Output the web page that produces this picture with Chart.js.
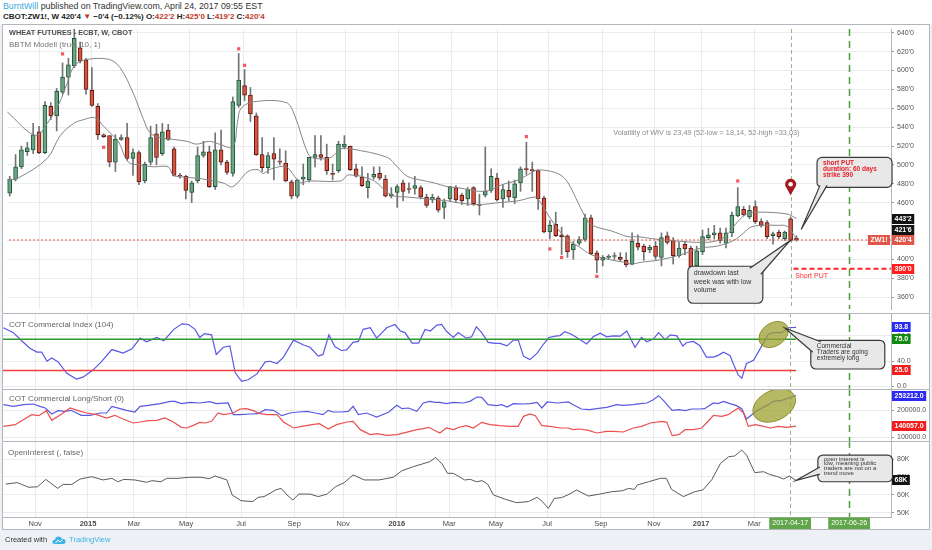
<!DOCTYPE html>
<html>
<head>
<meta charset="utf-8">
<title>Wheat futures weekly</title>
<script src="https://cdn.jsdelivr.net/npm/chart.js@4.4.1/dist/chart.umd.min.js"></script>
<style>
  html, body { margin: 0; padding: 0; }
  body { width: 932px; height: 550px; overflow: hidden; position: relative; background: #edf1f5;
         font-family: "Liberation Sans", Arial, sans-serif; }
  #hdr { position: absolute; left: 0; top: 0; width: 932px; height: 24px; background: #fff; }
  #hdr .l1 { position: absolute; left: 3px; top: 1px; font-size: 8.8px; color: #333; white-space: nowrap; }
  #hdr .l2 { position: absolute; left: 3px; top: 12px; font-size: 8px; font-weight: bold; color: #222; white-space: nowrap; }
  .blue { color: #3aa9de; }
  .red { color: #c0392b; }
  #frame { position: absolute; left: 2px; top: 24px; width: 926px; height: 504px; border: 1px solid #b3b7bb; background: #fff; }
  #frame canvas { position: absolute; left: 0; }
  .sep { position: absolute; left: 0; width: 926px; height: 1px; background: #b3b7bb; }
  .lgd { position: absolute; font-size: 8px; color: #666; white-space: nowrap; pointer-events: none; }
  #foot { position: absolute; left: 5px; top: 535px; font-size: 7.5px; color: #333; white-space: nowrap; }
  #foot .tv { color: #3bb3e4; }
  #foot svg { vertical-align: middle; margin: 0 3px 0 5px; }
</style>
</head>
<body>
<div id="hdr">
  <div class="l1"><span class="blue">BurntWill</span> published on TradingView.com, April 24, 2017 09:55 EST</div>
  <div class="l2">CBOT:ZW1!, W 420'4 <span class="red">&#9660;</span> &minus;0'4 (&minus;0.12%) O:<span class="red">422'2</span> H:<span class="red">425'0</span> L:<span class="red">419'2</span> C:<span class="red">420'4</span></div>
</div>

<div id="frame">
  <canvas id="cMain" width="926" height="288" style="top:0"></canvas>
  <canvas id="cIdx" width="926" height="76" style="top:288px"></canvas>
  <canvas id="cLS" width="926" height="52" style="top:364px"></canvas>
  <canvas id="cOI" width="926" height="88" style="top:416px"></canvas>
  <div class="sep" style="top:288px"></div>
  <div class="sep" style="top:364px"></div>
  <div class="sep" style="top:416px"></div>
  <div class="lgd" style="left:6px;top:3px;font-size:7.3px;font-weight:bold;color:#4d4d4d">WHEAT FUTURES - ECBT, W, CBOT</div>
  <div class="lgd" style="left:6px;top:15px;color:#777">BBTM Modell (true, 10, 1)</div>
  <div class="lgd" style="left:6px;top:295px">COT Commercial Index (104)</div>
  <div class="lgd" style="left:6px;top:369px">COT Commercial Long/Short (0)</div>
  <div class="lgd" style="left:5px;top:423px">OpenInterest (, false)</div>
</div>

<div id="foot">Created with<svg width="14" height="10" viewBox="0 0 14 10"><path d="M3 9 Q0 9 0.5 6.5 Q1 4.5 3 4.8 Q3.5 1.5 6.5 1.5 Q9 1.5 9.8 3.8 Q13.5 3.5 13.5 6.5 Q13.5 9 11 9 Z" fill="#3bb3e4"/><path d="M3.5 8 L6 5 L8 7 L10.5 4.5" stroke="#fff" stroke-width="1" fill="none"/></svg><span class="tv">TradingView</span></div>

<script>
// ---------- weekly candles, week index 0 = late Sep 2014 ----------
const opens = [470,485,498,514,516,535,513,562,552,577, 593,605,624,611,579,562,532,531,503,527,
  529,507,513,483,503,533,512,537,517,489, 488,471,483,510,514,477,516,503,491,563,
  584,574,552,511,497,512,504,502,482,467, 485,484,508,511,508,491,494,519,520,496,
  487,476,487,491,485,467,471,481,475,475, 476,466,463,465,455,464,476,468,464,476,
  458,468,473,486,464,473,465,481,496,495, 494,465,429,437,426,425,410,417,421,444,
  407,399,402,403,402,399,395,417,414,410, 414,402,425,420,404,416,412,393,408,423,
  426,428,417,428,446,453,445,456,440,439, 425,429,422,443,422.25];
const highs = [488,511,520,524,544,541,567,566,581,608, 613,644,630,613,603,565,533,531,532,532,
  544,517,515,503,541,543,544,543,519,491, 489,483,519,525,520,534,537,505,572,618,
  601,582,555,529,513,529,517,515,484,485, 501,508,531,531,522,501,525,531,520,501,
  498,491,498,498,489,476,479,484,481,488, 478,469,469,467,464,477,478,470,476,477,
  469,519,496,491,479,483,484,498,524,503, 495,467,441,450,434,426,419,424,448,447,
  409,404,405,407,407,407,428,426,416,415, 419,428,429,423,418,419,414,414,431,433,
  436,433,433,450,476,456,457,462,443,441, 429,431,430,445,425];
const lows = [467,483,496,510,512,512,512,548,536,575, 574,603,608,575,562,527,529,498,493,526,
  505,489,479,481,500,500,510,526,488,486, 464,460,481,508,476,474,500,490,488,561,
  568,546,510,493,491,484,500,482,464,465, 479,482,498,505,490,484,492,517,494,487,
  477,465,485,484,466,465,455,462,470,469, 464,455,460,450,443,462,460,458,457,457,
  447,466,471,462,455,462,459,472,490,472, 453,428,422,424,405,402,400,415,419,405,
  386,393,400,400,398,392,394,410,399,407, 400,393,416,395,402,405,390,390,405,421,
  422,417,412,424,445,446,443,438,434,422, 416,422,420,419,419.25];
const closes = [485,498,516,518,532,513,563,552,578,593, 606,634,610,580,563,532,530,503,527,529,
  507,513,482,501,529,508,535,527,489,488, 473,481,510,514,477,516,503,492,567,590,
  574,554,511,497,510,506,503,483,467,484, 487,508,511,508,494,490,522,522,495,488,
  478,483,490,486,467,469,477,472,474,478, 466,457,466,452,461,477,463,462,474,459,
  457,472,488,463,474,466,480,496,495,494, 464,429,436,425,424,408,416,421,444,406,
  399,402,403,404,400,394,419,413,408,413, 403,423,418,404,412,411,392,409,424,426,
  428,420,428,447,456,447,452,440,436,424, 427,424,429,420,420.5];

// BBTM bands (week, price)
const upperWeeks = [-0.4,4.4,6.4,8.4,9.75,10.9,12.6,16.8,18.8,21.1, 22.8,23.9,25.6,27.9,30.2,31.8,34.0,35.7,38.0,38.8,
  39.4,41.7,47.1,48.5,50.8,51.9,54.7,56.4,58.1,64.3, 66.0,67.7,70.0,72.3,74.5,76.2,81.0,83.8,86.6,88.9,
  90.0,92.3,93.9,95.1,96.8,98.5,99.6,102.5,105.3,107.0, 109.3,112.1,114.4,117,120,122,124,125.5,127.3,132.4, 134];
const upperVals = [556,531,544,565,586,604,611,612,603,575, 548,534,529,527,525,522,525,522,519,545,
  560,567,566,553,512,507,508,517,517,508, 498,488,484,481,477,476,472,479,484,492,
  494.6,493,489,481,460,440,435,430,424,424, 422,420,419,418,419,425,440,448,450,448, 443.25];
const lowerWeeks = [-0.4,1.4,6.4,8.6,10.9,12.6,14.5,16.0,17.1,18.5, 20.2,22.2,24.5,27.0,27.9,29.9,31.8,34.0,36.3,38.0,
  40.6,42.3,43.1,44.6,47.1,48.5,49.6,50.8,56.4,57.5, 58.7,59.8,62.1,64.3,65.5,67.7,71.1,74.5,76.2,79.8,
  83.2,86.6,89.5,90.2,91.7,93.4,95.1,96.8,99.0,101.3, 103.6,104.7,105.9,107.6,110.4,114.4,117.7,120.5,123.3,125.0,
  126.2,127.9,130.7,132.4,134];
const lowerVals = [484,486,507,531,544,548,550,541,534,525, 503,500,498,498,489,487,486,484,481,477,
  493,495,491,496,498,488,481,483,483,489, 489,488,483,471,467,466,464,462,460,458,
  460,462,466,462,447,432,420,414,405,401, 398,397,395,397,399,405,412,414,420,428,
  434,436,436,435,421.75];

// BBTM signal squares
const markerWeeks = [9,16,39,40,88,92,94,100,124];
const markerVals = [617.6,518.7,623,605.5,530,411,402,382,483];

const putStrike = 390;
const putStartWeek = 133.5;

// COT Commercial Index
const cotWeeks = [-0.4,1.3,2.7,4.1,5.3,6.1,7.0,7.8,8.9,10.35, 12.0,13.1,14.8,16.2,18.0,19.9,21.4,22.8,23.9,25.6,
  26.8,28.5,29.9,31.0,32.1,32.9,33.7,34.9,35.7,36.9, 38.0,38.9,40.0,41.1,42.6,44.0,44.8,46.0,47.1,48.8,
  50.5,51.6,53.0,53.8,54.8,55.8,56.9,57.8,58.9,59.8, 60.6,61.8,62.9,64.6,66.0,66.9,67.7,68.9,70.0,71.1,
  72.0,73.1,73.9,74.7,75.9,76.7,78.1,79.0,79.8,80.7, 81.8,83.0,83.8,85.0,86.1,86.9,87.8,88.9,90.1,91.2,
  92.1,93.2,94.0,94.8,95.9,96.8,98.5,99.6,100.8,101.9, 103.0,104.2,105.3,106.7,107.8,108.7,109.8,110.7,111.8,112.7,
  113.8,114.8,115.4,116.6,117.7,118.8,120.0,120.8,121.7,122.8, 123.4,124.2,124.8,125.6,126.8,127.9,129.3,130.2,131.6,132.7, 134];
const cotVals = [93.2,85.4,72.4,60.4,54.2,54.2,39.6,44.8,38.6,20.3, 11,14.1,25.5,38.6,58.3,52.6,59.4,76.6,70.8,77.6,
  72.4,90.6,99.5,98.4,90.6,77.6,83.9,81.8,50.5,62, 64.1,21.4,7.3,9.9,19.3,38.6,39.6,36,46.3,73.4,
  65.6,62,47.9,50.5,81.8,63,56.8,57.8,69.8,71.4, 90.6,93.2,76.6,93.2,98.4,88,85.4,68.7,68.7,90.6,
  88,97.4,98.4,88,77.6,85.4,76.6,78.7,94.8,85.4, 69.8,68.2,68.2,64.1,73.4,73.4,47.4,42.2,52.6,67.2,
  77.6,79.7,80.7,87,82.8,77.6,67.2,78.7,84.4,78.7, 80.2,79.7,88,62,77.6,70.8,75,85.4,74,81.8,
  80.2,64.1,69.3,71.4,64.6,46.3,46.3,49,54.2,49, 34.9,17.7,12.5,36,41.2,59.4,82.8,85.4,85.4,93.2, 93.8];
const cotUpper = 75;
const cotLower = 25;

// COT Commercial Long / Short (thousands of contracts)
const lsLongWeeks = [-0.4,1.3,3.0,4.7,5.8,6.7,7.8,8.9,10.05,11.1, 12.8,14.3,16.0,17.1,18.0,19.4,20.5,21.9,22.8,24.2,
  26.2,27.9,28.7,29.8,31.25,32.9,34.6,35.7,37.7,38.6, 39.7,41.4,42.8,44.0,45.4,46.8,48.2,49.7,51.1,52.5,
  53.8,54.7,55.5,56.9,58.1,58.9,59.8,61.2,62.9,64.9, 66.3,67.2,68.3,69.7,70.8,71.9,72.8,73.6,74.7,75.9,
  77.6,78.7,79.9,80.7,81.8,83.2,84.1,85.0,86.1,87.8, 88.9,90.1,90.9,91.8,93.5,95.4,96.2,97.6,99.0,100.2,
  101.9,103.6,104.7,106.4,107.6,108.7,109.8,110.7,111.5,113.0, 114.1,115.2,116.3,117.7,118.5,120.0,120.8,121.7,122.8,123.9,
  124.8,125.6,126.5,127.6,129.0,130.2,131.6,132.7,134];
const lsLongVals = [219.8,213.6,219.8,222.3,213.6,207.4,185.2,197.6,195.1,198.8, 180.3,180.3,188.9,188.9,213.6,205,198.8,192.6,213.6,217.3,
  223.5,232.1,232.1,223.5,228.4,226,230.9,223.5,226,182.7, 182.7,185.2,186.4,201.3,198.8,179.1,188.9,192.6,195.1,188.9,
  182.7,198.8,192.6,192.6,195.1,213.6,182.7,188.9,174.1,191.4, 217.3,205,207.4,195.1,226,232.1,228.4,228.4,223.5,228.4,
  226,232.1,248.2,246.9,219.8,216.1,219.8,211.1,223.5,222.3, 223.5,228.4,207.4,229.7,226,229.7,219.8,203.7,201.3,205,
  209.9,219.8,217.3,219.8,223.5,226,238.3,253.1,235.8,198.8, 201.3,197.6,203.7,203.7,205,226,223.5,232.1,223.5,216.1,
  205,166.7,182.7,201.3,216.1,232.1,235.8,244.5,253.212];
const lsShortWeeks = [-0.4,1.6,3.0,4.4,5.6,6.9,7.8,9.3,10.9,12.3, 13.7,15.4,17.1,18.5,19.9,21.6,22.8,24.2,25.6,27.0,
  28.2,29.8,30.7,31.8,32.9,33.8,34.9,36.0,36.9,38.6, 39.7,40.8,42.0,43.1,44.3,46.0,47.1,48.8,50.2,51.9,
  53.2,54.7,56.1,57.8,58.9,60.1,61.8,62.9,64.6,66.3, 67.9,69.7,70.8,71.7,73.6,74.7,75.9,77.0,78.1,79.3,
  80.7,82.1,83.8,85.5,86.9,87.8,88.9,89.8,90.9,92.3, 94.0,95.4,96.2,97.3,98.8,100.2,101.9,103.0,104.7,106.4,
  107.8,109.3,111.3,112.1,113.0,114.1,115.2,116.6,118.0,118.8, 120.0,121.4,122.5,124.2,125.1,125.9,127.1,128.5,129.6,131.0,
  132.4,134];
const lsShortVals = [139.5,145.7,164.2,182.7,179.1,197.6,161.8,182.7,207.4,197.6, 188.9,182.7,170.4,180.3,166.7,151.9,155.6,160.5,161.8,170.4,
  158.1,135.8,133.4,143.2,154.3,151.9,158.1,188.9,182.7,188.9, 203.7,205,197.6,186.4,182.7,182.7,155.6,133.4,139.5,145.7,
  149.4,129.7,145.7,155.6,158.1,127.2,108.7,112.4,106.2,108.7, 117.3,127.2,130.9,135.8,115,133.4,127.2,137.1,142,133.4,
  154.3,145.7,142,139.5,139.5,176.6,185.2,179.1,142,139.5, 133.4,133.4,127.2,129.7,124.7,114.9,121,121,118.5,133.4,
  139.5,151.9,158.1,154.3,105,108.7,127.2,127.2,133.4,151.9, 180.3,176.6,182.7,207.4,188.9,139.5,145.7,139.5,133.4,139.5,
  135.8,140.057];

// Open interest (K contracts)
const oiWeeks = [0,1.95,3.9,5.4,6.8,8.8,9.75,11.2,12.6,14.6, 16.5,18.0,19.0,20.0,21.9,23.9,24.8,26.3,27.3,29.2,
  31.15,33.1,34.5,35.5,37.5,38.4,39.9,41.9,42.8,43.8, 44.8,45.75,46.7,47.7,48.7,49.7,51.6,53.0,54.5,55.9,
  57.4,58.9,60.8,63.3,65.7,67.2,69.1,70.6,71.9,72.9, 74.0,74.9,75.9,76.9,77.8,78.8,79.8,80.8,81.7,82.7,
  84.7,86.6,88.6,90.1,91.0,92.0,93.0,94.2,95.3,96.8, 98.8,100.7,102.7,104.6,105.6,106.6,107.1,109.0,111.0,112.0,
  112.9,114.9,116.8,118.2,119.7,121.2,122.6,123.6,124.8,125.6, 127.0,128.5,129.5,130.9,131.9,132.9,134];
const oiVals = [66.0,66.8,64.2,64.5,68.6,63.6,65.8,65.8,68.8,70.1, 68.3,69.2,67.3,68.6,68.3,67,67.9,67.3,69.2,69.2,
  69.8,69.8,69,70.5,68.3,59.9,56.7,56.2,58.6,59, 60.8,62.7,63.6,59.9,57.1,60.4,60.4,59,60.4,64.5,
  66.8,71.1,68.3,68.3,69.8,73.5,75.7,77.2,78.5,80.9, 77.2,72,72,70.1,68.3,68.6,67.3,67.9,66,59.9,
  57.5,55.6,56.2,58.6,56.2,52.4,58,58.4,59.9,62.7, 59.3,60.4,61.7,62.3,63.6,63,65.5,67.3,69.2,69.2,
  63,59,61.7,62.7,68.3,77.6,81.3,81.7,85,82.2, 72.4,72.9,71.4,70.1,68.8,70.5,68];

// time axis
const tickWeeks = [5.0,13.95,21.75,30.6,39.9,48.9,57.2,66.3,75.2,83.1,91.8,100.9,109.9,117.9,126.9];
const tickLabels = ['Nov','2015','Mar','May','Jul','Sep','Nov','2016','Mar','May','Jul','Sep','Nov','2017','Mar'];
const eventWeeks = [133, 143];
const eventLabels = ['2017-04-17', '2017-06-26'];

const priceTicks = [360,380,400,420,440,460,480,500,520,540,560,580,600,620,640];
const cotTicks = [0,40,80];
const lsTicks = [100,200];
const oiTicks = [50,60,70,80];

// ---------- styling ----------
const X_MIN = -0.46, X_MAX = 150.1, AXIS_W = 38;
const GRID = '#e9ebee', FRAME = '#b3b7bb';
const UP = '#6ba583', DOWN = '#d75442', UP_BORDER = '#225437', DOWN_BORDER = '#5b1a13', WICK = '#737375';
const FONT = '"Liberation Sans", Arial, sans-serif';
const EVENT_STYLE = [
  { color: '#93b98a', width: 1, dash: [4, 3] },
  { color: '#4f9a3c', width: 1.5, dash: [7, 5] }
];
Chart.defaults.font.family = FONT;
Chart.defaults.font.size = 7;
Chart.defaults.color = '#555';

const last = closes.length - 1;
const isUp = i => closes[i] >= opens[i];
const fmtPrice = v => { const n = Math.floor(v + 1e-9); return n + "'" + Math.round((v - n) * 8); };
const pts = (xs, ys) => xs.map((x, i) => ({ x: x, y: ys[i] }));

function xAxis(showLabels) {
  return {
    type: 'linear', min: X_MIN, max: X_MAX, offset: false,
    afterBuildTicks: s => { s.ticks = tickWeeks.map(v => ({ value: v })); },
    afterFit: s => { s.height = showLabels ? 12 : 0; s.paddingLeft = 0; s.paddingRight = 0; },
    grid: { color: GRID, drawTicks: false, offset: false },
    border: { display: showLabels, color: FRAME },
    ticks: {
      display: showLabels, autoSkip: false, maxRotation: 0, padding: 2, color: '#4a4a4a',
      font: c => ({ size: 7.5, weight: /^\d{4}$/.test(tickLabels[c.index]) ? 'bold' : 'normal' }),
      callback: (v, i) => tickLabels[i]
    }
  };
}
function yAxis(min, max, ticks, fmt) {
  return {
    position: 'right', min: min, max: max,
    afterBuildTicks: s => { s.ticks = ticks.map(v => ({ value: v })); },
    afterFit: s => { s.width = AXIS_W; s.paddingTop = 0; s.paddingBottom = 0; },
    grid: { color: GRID, tickLength: 3, tickColor: '#999' },
    border: { color: FRAME },
    ticks: { color: '#555', padding: 3, font: { size: 7 }, callback: v => fmt(v) }
  };
}
const baseOptions = (x, y) => ({
  responsive: false, animation: false, events: [],
  layout: { padding: 0 },
  plugins: { legend: { display: false }, tooltip: { enabled: false } },
  scales: { x: x, y: y }
});

const eventLines = {
  id: 'eventLines',
  beforeDatasetsDraw(chart) {
    const { ctx, chartArea: a, scales: { x } } = chart;
    ctx.save();
    eventWeeks.forEach((w, i) => {
      const st = EVENT_STYLE[i];
      const px = Math.round(x.getPixelForValue(w)) + 0.5;
      ctx.strokeStyle = st.color; ctx.lineWidth = st.width; ctx.setLineDash(st.dash);
      ctx.beginPath(); ctx.moveTo(px, a.top); ctx.lineTo(px, a.bottom); ctx.stroke();
    });
    ctx.restore();
  }
};

function tagPlugin(tags) {
  return {
    id: 'tags',
    afterDraw(chart) {
      const { ctx, chartArea: a, scales: { y } } = chart;
      const h = 10;
      const items = tags.map(t => Object.assign({}, t, { py: y.getPixelForValue(t.v) }))
        .sort((p, q) => q.py - p.py);
      for (let i = 1; i < items.length; i++) {
        if (items[i].py > items[i - 1].py - h) items[i].py = items[i - 1].py - h;
      }
      ctx.save();
      ctx.font = 'bold 7px ' + FONT;
      ctx.textBaseline = 'middle';
      items.forEach(t => {
        const w = ctx.measureText(t.text).width + 5;
        ctx.fillStyle = t.bg;
        ctx.fillRect(a.right + 1, Math.round(t.py - h / 2), w, h);
        ctx.fillStyle = '#fff';
        ctx.fillText(t.text, a.right + 3.5, Math.round(t.py - h / 2) + h / 2 + 0.5);
      });
      ctx.restore();
    }
  };
}

function callout(ctx, bx, by, w, h, tip, b1, b2, lines, font, color, lineGap) {
  ctx.save();
  ctx.lineWidth = 1.2; ctx.strokeStyle = '#3a3a3a'; ctx.fillStyle = '#e8e8e8';
  ctx.beginPath(); ctx.roundRect(bx, by, w, h, 5); ctx.fill(); ctx.stroke();
  ctx.beginPath(); ctx.moveTo(b1[0], b1[1]); ctx.lineTo(tip[0], tip[1]); ctx.lineTo(b2[0], b2[1]); ctx.closePath(); ctx.fill();
  ctx.beginPath(); ctx.moveTo(b1[0], b1[1]); ctx.lineTo(tip[0], tip[1]); ctx.lineTo(b2[0], b2[1]); ctx.stroke();
  ctx.font = font; ctx.fillStyle = color; ctx.textBaseline = 'middle';
  lines.forEach((s, i) => ctx.fillText(s, bx + 6, by + lineGap * 0.85 + i * lineGap));
  ctx.restore();
}
function blob(ctx, cx, cy, rx, ry, rot) {
  ctx.save();
  ctx.fillStyle = 'rgba(158,160,48,0.75)'; ctx.strokeStyle = '#8d8f2c'; ctx.lineWidth = 1;
  ctx.beginPath(); ctx.ellipse(cx, cy, rx, ry, rot, 0, Math.PI * 2); ctx.fill(); ctx.stroke();
  ctx.restore();
}

const mainNotes = {
  id: 'mainNotes',
  afterDraw(chart) {
    const { ctx, chartArea: a, scales: { x, y } } = chart;
    const X = v => x.getPixelForValue(v), Y = v => y.getPixelForValue(v);
    ctx.save();
    ctx.font = '7.3px ' + FONT; ctx.fillStyle = '#8c8c8c'; ctx.textBaseline = 'middle';
    ctx.fillText('Volatility of WIV is 23,49 (52-low = 18,14, 52-high =33,03)', X(102.8), Y(533.8));
    ctx.font = '7px ' + FONT; ctx.fillStyle = '#ff2a2a';
    ctx.fillText('Short PUT', X(133.8), Y(putStrike) + 7);
    // last price label on the chart side
    const ly = Y(closes[last]);
    ctx.font = 'bold 7px ' + FONT;
    const tw = ctx.measureText('ZW1!').width + 5;
    ctx.fillStyle = '#e0574a'; ctx.fillRect(a.right - tw - 1, Math.round(ly - 5), tw, 10);
    ctx.fillStyle = '#fff'; ctx.fillText('ZW1!', a.right - tw + 1.5, Math.round(ly - 5) + 5.5);
    // map pin
    const px = X(eventWeeks[0]), py = Y(467.9);
    ctx.fillStyle = '#a3191f';
    ctx.beginPath(); ctx.arc(px, py - 11, 5.5, Math.PI * 0.78, Math.PI * 2.22);
    ctx.lineTo(px, py); ctx.closePath(); ctx.fill();
    ctx.fillStyle = '#fff'; ctx.beginPath(); ctx.arc(px, py - 11, 2.3, 0, Math.PI * 2); ctx.fill();
    ctx.restore();
    // callouts
    const sx = X(137.5), sy = Y(508);
    callout(ctx, sx, sy, 75, 30, [X(134.8), Y(431.6)], [sx + 3, sy + 28], [sx + 10, sy + 28],
      ['short PUT', 'duration: 60 days', 'strike 390'], 'bold 6.5px ' + FONT, '#e8202a', 6.3);
    const dx = X(115.5), dy = Y(392.7);
    callout(ctx, dx, dy, 75, 37, [X(132.9), Y(419.8)], [dx + 62, dy + 2], [dx + 73, dy + 8],
      ['drawdown last', 'week was with low', 'volume'], '7px ' + FONT, '#333', 8.3);
  }
};

// ---------- main pane ----------
new Chart(document.getElementById('cMain'), {
  type: 'bar',
  data: { datasets: [
    { type: 'bar', data: lows.map((l, i) => ({ x: i, y: [l, highs[i]] })), backgroundColor: WICK,
      barThickness: 1, grouped: false, order: 6 },
    { type: 'bar', data: opens.map((o, i) => ({ x: i, y: [o, closes[i]] })),
      backgroundColor: c => isUp(c.dataIndex) ? UP : DOWN,
      borderColor: c => isUp(c.dataIndex) ? UP_BORDER : DOWN_BORDER,
      borderWidth: 1, borderSkipped: false, barThickness: 4, minBarLength: 1, grouped: false, order: 5 },
    { type: 'line', data: pts(upperWeeks, upperVals), borderColor: '#858585', borderWidth: 1,
      pointRadius: 0, tension: 0.35, order: 3 },
    { type: 'line', data: pts(lowerWeeks, lowerVals), borderColor: '#858585', borderWidth: 1,
      pointRadius: 0, tension: 0.35, order: 3 },
    { type: 'line', data: [{ x: X_MIN - 1, y: closes[last] }, { x: X_MAX + 1, y: closes[last] }],
      borderColor: '#e0574a', borderWidth: 1, borderDash: [2, 2], pointRadius: 0, order: 2 },
    { type: 'line', data: [{ x: putStartWeek, y: putStrike }, { x: X_MAX + 1, y: putStrike }],
      borderColor: '#ff2424', borderWidth: 2, borderDash: [5, 3], pointRadius: 0, order: 2 },
    { type: 'line', data: pts(markerWeeks, markerVals), showLine: false, pointStyle: 'rect',
      pointRadius: 2.3, backgroundColor: '#f25c68', borderWidth: 0, order: 1 }
  ] },
  options: baseOptions(xAxis(false), yAxis(347.4, 643.98, priceTicks, fmtPrice)),
  plugins: [eventLines, tagPlugin([
    { v: upperVals[upperVals.length - 1], text: fmtPrice(upperVals[upperVals.length - 1]), bg: '#131313' },
    { v: lowerVals[lowerVals.length - 1], text: fmtPrice(lowerVals[lowerVals.length - 1]), bg: '#131313' },
    { v: closes[last], text: fmtPrice(closes[last]), bg: '#e0574a' },
    { v: putStrike, text: fmtPrice(putStrike), bg: '#ff1f1f' }
  ]), mainNotes]
});

// ---------- COT commercial index ----------
new Chart(document.getElementById('cIdx'), {
  type: 'line',
  data: { datasets: [
    { data: [{ x: X_MIN - 1, y: cotUpper }, { x: last, y: cotUpper }], borderColor: '#2f9a2f', borderWidth: 1.5, pointRadius: 0 },
    { data: [{ x: X_MIN - 1, y: cotLower }, { x: last, y: cotLower }], borderColor: '#f03c3c', borderWidth: 1.5, pointRadius: 0 },
    { data: pts(cotWeeks, cotVals), borderColor: '#5858e4', borderWidth: 1.2, pointRadius: 0 }
  ] },
  options: baseOptions(xAxis(false), yAxis(-4.8, 116.8, cotTicks, v => v.toFixed(1))),
  plugins: [eventLines, tagPlugin([
    { v: cotVals[cotVals.length - 1], text: cotVals[cotVals.length - 1].toFixed(1), bg: '#2a2af0' },
    { v: cotUpper, text: cotUpper.toFixed(1), bg: '#138a13' },
    { v: cotLower, text: cotLower.toFixed(1), bg: '#f21e1e' }
  ]), {
    id: 'idxNotes',
    afterDraw(chart) {
      const { ctx, scales: { x, y } } = chart;
      blob(ctx, x.getPixelForValue(130.2), y.getPixelForValue(82.4), 16, 11.5, -0.6);
      const bx = x.getPixelForValue(136.5), by = y.getPixelForValue(73.1);
      callout(ctx, bx, by, 74, 28.7, [x.getPixelForValue(132.1), y.getPixelForValue(92.8)],
        [bx + 2, by + 12], [bx + 10, by + 1.5],
        ['Commercial', 'Traders are going', 'extremely long'], '6.5px ' + FONT, '#333', 6.4);
    }
  }]
});

// ---------- COT long / short ----------
new Chart(document.getElementById('cLS'), {
  type: 'line',
  data: { datasets: [
    { data: pts(lsShortWeeks, lsShortVals), borderColor: '#ec4f4f', borderWidth: 1.2, pointRadius: 0 },
    { data: pts(lsLongWeeks, lsLongVals), borderColor: '#5858e4', borderWidth: 1.2, pointRadius: 0 }
  ] },
  options: baseOptions(xAxis(false), yAxis(85.2, 277.8, lsTicks, v => (v * 1000).toFixed(1))),
  plugins: [eventLines, tagPlugin([
    { v: lsLongVals[lsLongVals.length - 1], text: (lsLongVals[lsLongVals.length - 1] * 1000).toFixed(1), bg: '#2a2af0' },
    { v: lsShortVals[lsShortVals.length - 1], text: (lsShortVals[lsShortVals.length - 1] * 1000).toFixed(1), bg: '#f21e1e' }
  ]), {
    id: 'lsNotes',
    afterDraw(chart) {
      const { ctx, scales: { x, y } } = chart;
      blob(ctx, x.getPixelForValue(130.3), y.getPixelForValue(216.7), 22.5, 15, -0.45);
    }
  }]
});

// ---------- open interest ----------
new Chart(document.getElementById('cOI'), {
  type: 'line',
  data: { datasets: [
    { data: pts(oiWeeks, oiVals), borderColor: '#5a5a5a', borderWidth: 1, pointRadius: 0 }
  ] },
  options: baseOptions(xAxis(true), yAxis(47.6, 90.06, oiTicks, v => v + 'K')),
  plugins: [eventLines, tagPlugin([
    { v: oiVals[oiVals.length - 1], text: oiVals[oiVals.length - 1] + 'K', bg: '#131313' }
  ]), {
    id: 'oiNotes',
    afterDraw(chart) {
      const { ctx, chartArea: a, scales: { x, y } } = chart;
      const bx = x.getPixelForValue(137.7), by = y.getPixelForValue(82.2);
      callout(ctx, bx, by, 74.6, 26.7, [x.getPixelForValue(last), y.getPixelForValue(oiVals[oiVals.length - 1])],
        [bx + 2, by + 12], [bx + 2, by + 19],
        ['open interest is', 'low, meaning public', 'traders are not on a', 'trend move'], '6px ' + FONT, '#333', 4.7);
      ctx.save();
      ctx.font = '7px ' + FONT; ctx.textBaseline = 'middle'; ctx.textAlign = 'center';
      eventWeeks.forEach((w, i) => {
        const px = x.getPixelForValue(w);
        const tw = ctx.measureText(eventLabels[i]).width + 6;
        ctx.fillStyle = '#62a64c';
        ctx.fillRect(px - tw / 2, a.bottom + 0.5, tw, 12);
        ctx.fillStyle = '#fff';
        ctx.fillText(eventLabels[i], px, a.bottom + 6.5);
      });
      ctx.restore();
    }
  }]
});
</script>
</body>
</html>
